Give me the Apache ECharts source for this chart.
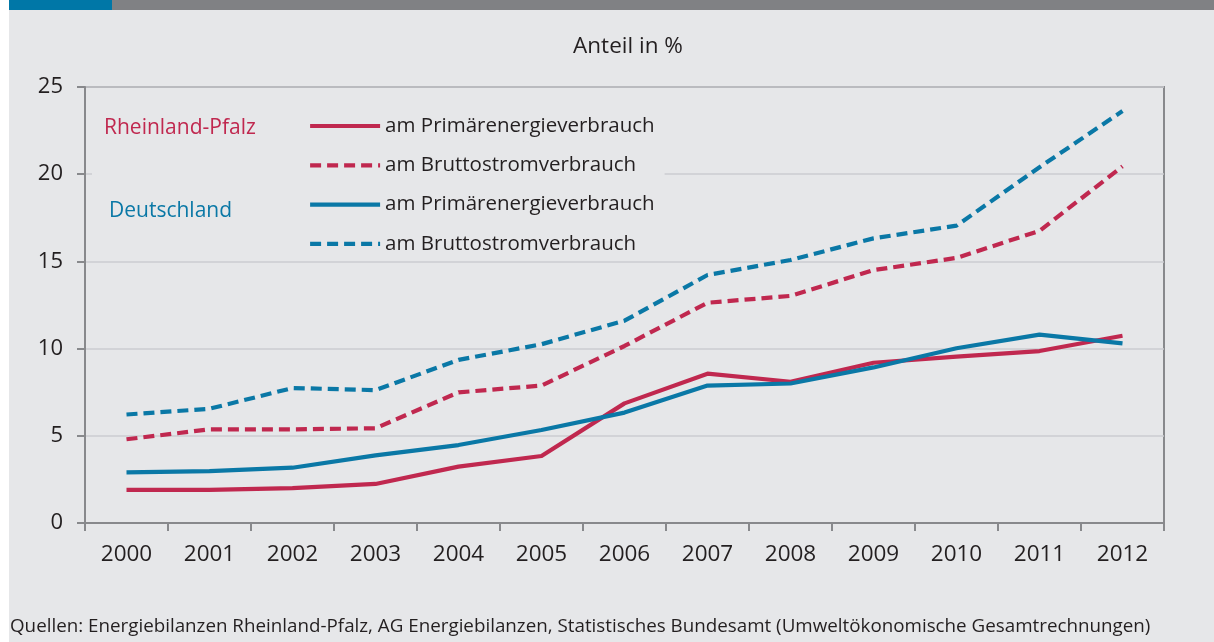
<!DOCTYPE html>
<html>
<head>
<meta charset="utf-8">
<script src="https://cdn.jsdelivr.net/npm/echarts@6/dist/echarts.min.js"></script>
<style>
html,body{margin:0;padding:0;background:#e6e7e9;}
#c{width:1214px;height:642px;}
</style>
</head>
<body>
<div id="c"></div>
<script>
const years = ['2000','2001','2002','2003','2004','2005','2006','2007','2008','2009','2010','2011','2012'];
const yTicks = [0, 5, 10, 15, 20, 25];
const rlpPrimary = [1.9, 1.9, 2.0, 2.24, 3.23, 3.84, 6.86, 8.56, 8.1, 9.19, 9.54, 9.86, 10.74];
const rlpStrom   = [4.8, 5.37, 5.37, 5.43, 7.49, 7.88, 10.15, 12.63, 13.02, 14.5, 15.2, 16.75, 20.45];
const dePrimary  = [2.9, 2.97, 3.17, 3.88, 4.47, 5.33, 6.33, 7.88, 8.0, 8.92, 10.02, 10.8, 10.3];
const deStrom    = [6.22, 6.55, 7.74, 7.62, 9.35, 10.25, 11.6, 14.22, 15.08, 16.32, 17.05, 20.4, 23.62];
const seriesNames = ['am Primärenergieverbrauch', 'am Bruttostromverbrauch'];
const titleText = 'Anteil in %';
const sourceText = 'Quellen: Energiebilanzen Rheinland-Pfalz, AG Energiebilanzen, Statistisches Bundesamt (Umweltökonomische Gesamtrechnungen)';

const RED = '#c0284f';
const BLUE = '#0a78a6';
const BG = '#e6e7e9';
const AXIS = '#88898c';
const FONT = '"Open Sans", "Noto Sans", sans-serif';

const chart = echarts.init(document.getElementById('c'), null, {renderer: 'canvas'});

function mkSeries(id, data, color, dashed) {
  return {
    id: id,
    name: id,
    type: 'line',
    data: data,
    symbol: 'none',
    smooth: false,
    lineStyle: {
      color: color,
      width: 4.2,
      type: dashed ? [11, 6] : 'solid',
      join: 'round'
    },
    itemStyle: {color: color},
    z: 3
  };
}

const option = {
  backgroundColor: BG,
  animation: false,
  textStyle: {fontFamily: FONT},
  grid: {
    left: 85, top: 87, right: 50, bottom: 119,
    show: true,
    borderColor: AXIS,
    borderWidth: 2,
    backgroundColor: 'transparent'
  },
  legend: {
    orient: 'vertical',
    left: 255,
    top: 110,
    padding: [4, 10, 4, 53],
    backgroundColor: BG,
    itemWidth: 70,
    itemHeight: 24,
    itemGap: 15.3,
    itemStyle: {opacity: 0},
    lineStyle: {width: 4.2},
    textStyle: {fontFamily: FONT, fontSize: 20.5, color: '#231f20', lineHeight: 24},
    data: ['rlpP', 'rlpS', 'deP', 'deS'],
    selectedMode: false
  },
  xAxis: {
    type: 'category',
    data: years,
    boundaryGap: true,
    axisLine: {show: true, lineStyle: {color: AXIS, width: 2}},
    axisTick: {show: true, inside: false, length: 8, lineStyle: {color: AXIS, width: 2}},
    axisLabel: {color: '#231f20', fontSize: 22.5, fontFamily: FONT, margin: 20},
    splitLine: {show: false}
  },
  yAxis: {
    type: 'value',
    min: 0, max: 25, interval: 5,
    axisLine: {show: true, lineStyle: {color: AXIS, width: 2}},
    axisTick: {show: true, inside: false, length: 8, lineStyle: {color: AXIS, width: 2}},
    axisLabel: {
      color: '#231f20', fontSize: 22, fontFamily: FONT, margin: 22,
      formatter: function (v) { return yTicks.indexOf(v) >= 0 ? String(v) : ''; }
    },
    splitLine: {show: true, lineStyle: {color: '#cbcdd0', width: 1.5}}
  },
  series: [],
  graphic: [
    {type: 'rect', left: 0, top: 0, shape: {x: 0, y: 0, width: 9, height: 642}, style: {fill: '#ffffff'}, z: 10, silent: true},
    {type: 'rect', left: 9, top: 0, shape: {x: 0, y: 0, width: 103, height: 10}, style: {fill: '#0077a7'}, z: 10, silent: true},
    {type: 'rect', left: 112, top: 0, shape: {x: 0, y: 0, width: 1102, height: 10}, style: {fill: '#808184'}, z: 10, silent: true},
    {type: 'rect', left: 92, top: 110, shape: {x: 0, y: 0, width: 163, height: 140}, style: {fill: BG}, z: 5, silent: true},
    {type: 'text', x: 104, y: 128, style: {text: 'Rheinland-Pfalz', fill: RED, font: '21px ' + FONT, align: 'left', verticalAlign: 'middle'}, z: 6, silent: true},
    {type: 'text', x: 109, y: 211, style: {text: 'Deutschland', fill: BLUE, font: '21px ' + FONT, align: 'left', verticalAlign: 'middle'}, z: 6, silent: true},
    {type: 'text', x: 628, y: 47, style: {text: titleText, fill: '#231f20', font: '22.5px ' + FONT, align: 'center', verticalAlign: 'middle'}, z: 6, silent: true},
    {type: 'text', x: 10, y: 627, style: {text: sourceText, fill: '#231f20', font: '18.8px ' + FONT, align: 'left', verticalAlign: 'middle'}, z: 6, silent: true}
  ]
};

const defs = [
  ['rlpP', rlpPrimary, RED, false, seriesNames[0]],
  ['rlpS', rlpStrom, RED, true, seriesNames[1]],
  ['deP', dePrimary, BLUE, false, seriesNames[0]],
  ['deS', deStrom, BLUE, true, seriesNames[1]]
];
const labelMap = {};
defs.forEach(function (d) {
  labelMap[d[0]] = d[4];
  option.series.push(mkSeries(d[0], d[1], d[2], d[3]));
});
option.legend.formatter = function (n) { return labelMap[n]; };

chart.setOption(option);
</script>
</body>
</html>
